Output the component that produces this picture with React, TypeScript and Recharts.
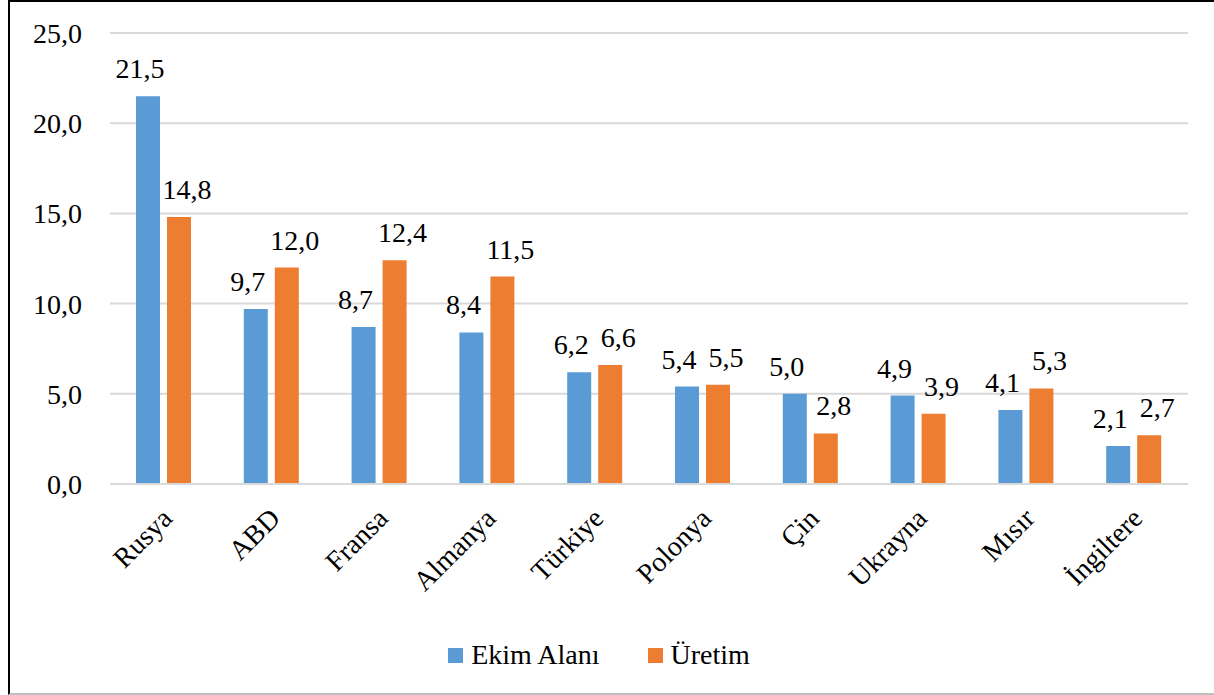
import React from "react";
import { BarChart, Bar, XAxis, YAxis, CartesianGrid, Legend, LabelList } from "recharts";

const countries = ["Rusya", "ABD", "Fransa", "Almanya", "Türkiye", "Polonya", "Çin", "Ukrayna", "Mısır", "İngiltere"];
const ekimAlani = [21.5, 9.7, 8.7, 8.4, 6.2, 5.4, 5.0, 4.9, 4.1, 2.1];
const uretim = [14.8, 12.0, 12.4, 11.5, 6.6, 5.5, 2.8, 3.9, 5.3, 2.7];
const yTicks = [0, 5, 10, 15, 20, 25];
const seriesNames = ["Ekim Alanı", "Üretim"];
const colors = ["#5B9BD5", "#ED7D31"];

const data = countries.map((c, i) => ({ name: c, ekim: ekimAlani[i], uretim: uretim[i] }));

const FONT = "Liberation Serif, Times New Roman, Tinos, DejaVu Serif, Noto Serif, serif";
const FS = 28;
const fmt = (v: number) => v.toFixed(1).replace(".", ",");

const makeLabel = (dx: number) => (props: any) => {
  const { x, y, width, value } = props;
  return (
    <text
      x={Number(x) + Number(width) / 2 + dx}
      y={Number(y) - 18}
      textAnchor="middle"
      style={{ fontFamily: FONT }}
      fontSize={FS}
      fill="#000"
    >
      {fmt(Number(value))}
    </text>
  );
};

const XTick = (props: any) => {
  const { x, y, payload } = props;
  return (
    <g transform={`translate(${x + 10},${y + 28})`}>
      <text transform="rotate(-45)" textAnchor="end" style={{ fontFamily: FONT }} fontSize={FS} fill="#000">
        {payload.value}
      </text>
    </g>
  );
};

const YTick = (props: any) => {
  const { x, y, payload } = props;
  return (
    <text x={x - 4} y={y} dy={10} textAnchor="end" style={{ fontFamily: FONT }} fontSize={FS} fill="#000">
      {fmt(Number(payload.value))}
    </text>
  );
};

const LegendContent = () => (
  <div style={{ display: "flex", justifyContent: "center", alignItems: "center", height: 40, fontFamily: FONT, fontSize: FS, color: "#000" }}>
    {seriesNames.map((n, i) => (
      <div key={n} style={{ display: "flex", alignItems: "center", marginRight: i === 0 ? 48 : 0 }}>
        <div style={{ width: 15, height: 15, background: colors[i], marginRight: 8 }} />
        <span>{n}</span>
      </div>
    ))}
  </div>
);

export default function App() {
  return (
    <div>
      <div
        style={{
          position: "absolute",
          left: 8,
          top: 0,
          width: 1206,
          height: 695,
          borderTop: "2px solid #000",
          borderLeft: "2px solid #000",
          borderBottom: "2px solid #bfbfbf",
          boxSizing: "border-box",
        }}
      />
      <div style={{ position: "absolute", left: 0, top: 0 }}>
        <BarChart
          width={1214}
          height={695}
          data={data}
          margin={{ top: 33, right: 26, bottom: 20, left: 10 }}
          barSize={24}
          barGap={7}
        >
          <CartesianGrid vertical={false} stroke="#d9d9d9" strokeWidth={2} />
          <XAxis
            dataKey="name"
            interval={0}
            height={151}
            tickLine={false}
            axisLine={{ stroke: "#d9d9d9", strokeWidth: 2 }}
            tick={<XTick />}
          />
          <YAxis
            domain={[0, 25]}
            ticks={yTicks}
            width={100}
            axisLine={false}
            tickLine={false}
            tick={<YTick />}
            tickMargin={18}
          />
          <Legend verticalAlign="bottom" height={40} content={<LegendContent />} />
          <Bar dataKey="ekim" name={seriesNames[0]} fill={colors[0]} isAnimationActive={false}>
            <LabelList dataKey="ekim" content={makeLabel(-8)} />
          </Bar>
          <Bar dataKey="uretim" name={seriesNames[1]} fill={colors[1]} isAnimationActive={false}>
            <LabelList dataKey="uretim" content={makeLabel(8)} />
          </Bar>
        </BarChart>
      </div>
    </div>
  );
}
